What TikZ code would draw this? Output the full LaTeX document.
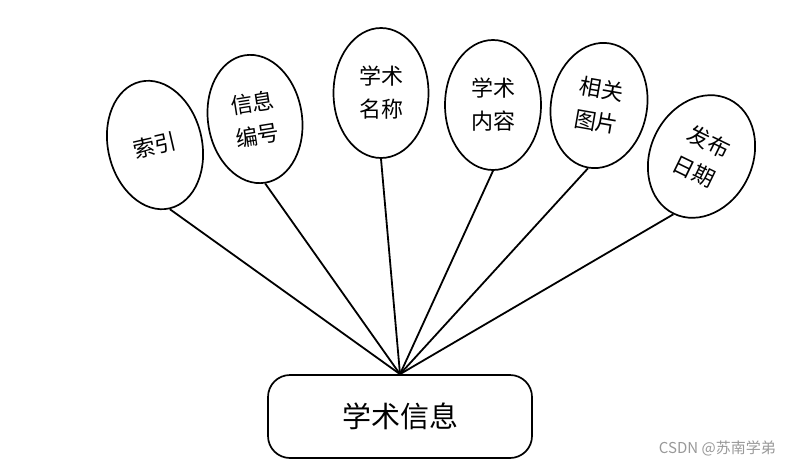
\documentclass[tikz,border=0pt]{standalone}
\usepackage{fontspec}
\newfontfamily\cjk{Noto Sans CJK SC}
\usetikzlibrary{shapes.geometric}
\tikzset{
  attr/.style={ellipse, draw=black, line width=1.7pt, fill=white, inner sep=0pt, align=center,
    font=\cjk\fontsize{22}{33}\selectfont},
  entity/.style={draw=black, line width=1.7pt, rounded corners=22pt, fill=white, inner sep=0pt,
    font=\cjk\fontsize{29}{34}\selectfont},
  link/.style={line width=1.8pt, draw=black}
}
\begin{document}
\begin{tikzpicture}[x=1pt,y=-1pt]
\useasboundingbox[fill=white] (0,0) rectangle (791,468);
\node[entity, minimum width=264pt, minimum height=83pt] (box) at (400,416.5) {学术信息};
\coordinate (hub) at (box.north);
\node[attr, minimum width=94pt, minimum height=130pt, rotate=13] (e1) at (155,145) {索引};
\node[attr, minimum width=94pt, minimum height=129pt, rotate=9] (e2) at (255,119) {信息\\编号};
\node[attr, minimum width=95pt, minimum height=130pt] (e3) at (381,93) {学术\\名称};
\node[attr, minimum width=96pt, minimum height=130pt] (e4) at (493,105) {学术\\内容};
\node[attr, minimum width=96pt, minimum height=126pt, rotate=-10] (e5) at (599,105.5) {相关\\图片};
\node[attr, minimum width=102pt, minimum height=127pt, rotate=-26] (e6) at (701.5,156.5) {发布\\日期};
\foreach \e in {e1,e2,e3,e4,e5,e6} \draw[link] (\e.south) -- (hub);
\node[anchor=east, text=black!40, font=\cjk\fontsize{15}{18}\selectfont, inner sep=0pt] (wm) at (776,448) {CSDN @苏南学弟};
\end{tikzpicture}
\end{document}
